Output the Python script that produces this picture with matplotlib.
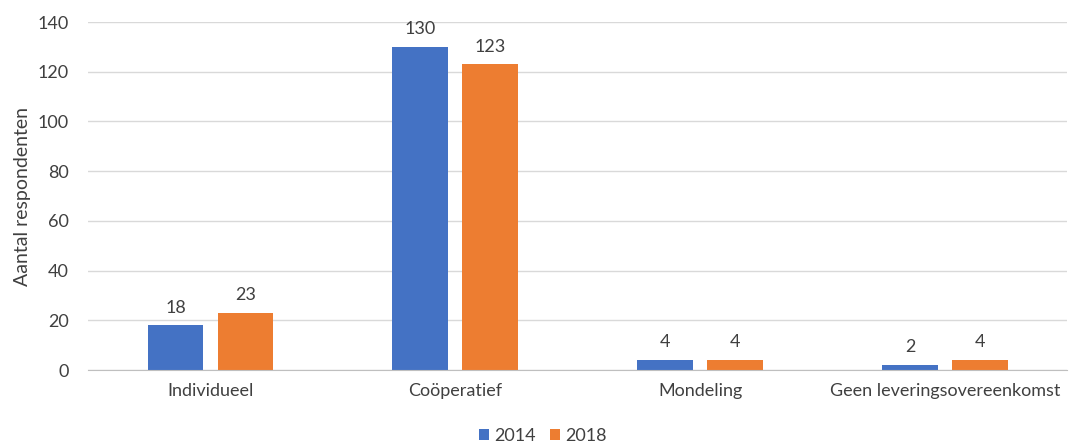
import matplotlib
matplotlib.use("Agg")
import matplotlib.pyplot as plt
import numpy as np

categories = ["Individueel", "Coöperatief", "Mondeling", "Geen leveringsovereenkomst"]
series_names = ["2014", "2018"]
values_2014 = [18, 130, 4, 2]
values_2018 = [23, 123, 4, 4]
yticks = [0, 20, 40, 60, 80, 100, 120, 140]

plt.rcParams['font.family'] = ['Lato', 'DejaVu Sans']

fig = plt.figure(figsize=(10.75, 4.45), dpi=100)
ax = fig.add_axes([0.082, 0.1685, 0.911, 0.782])

x = np.arange(len(categories))
w = 0.228
off = 0.143
colors = ["#4472C4", "#ED7D31"]
b1 = ax.bar(x - off, values_2014, w, color=colors[0], label=series_names[0], zorder=3)
b2 = ax.bar(x + off, values_2018, w, color=colors[1], label=series_names[1], zorder=3)
for bars in (b1, b2):
    ax.bar_label(bars, padding=7, fontsize=13, color="#404040")

ax.set_xlim(-0.5, len(categories) - 0.5)
ax.set_ylim(0, 140)
ax.set_yticks(yticks)
ax.set_xticks(x)
ax.set_xticklabels(categories)
ax.tick_params(axis='y', length=0, labelsize=13, colors="#404040", pad=14)
ax.tick_params(axis='x', length=0, labelsize=13, colors="#404040", pad=9)
ax.grid(axis='y', color="#D9D9D9", linewidth=1, zorder=0)
for s in ["top", "right", "left"]:
    ax.spines[s].set_visible(False)
ax.spines["bottom"].set_color("#BFBFBF")
ax.spines["bottom"].set_zorder(4)
ax.set_ylabel("Aantal respondenten", fontsize=14, color="#404040", labelpad=5)

fig.legend(handles=[b1, b2], labels=series_names, loc="lower center",
           bbox_to_anchor=(0.505, -0.035), ncol=2, frameon=False, fontsize=13,
           handlelength=0.55, handleheight=0.55, columnspacing=0.8, handletextpad=0.3,
           labelcolor="#404040")

fig.savefig("out.png", dpi=100)
